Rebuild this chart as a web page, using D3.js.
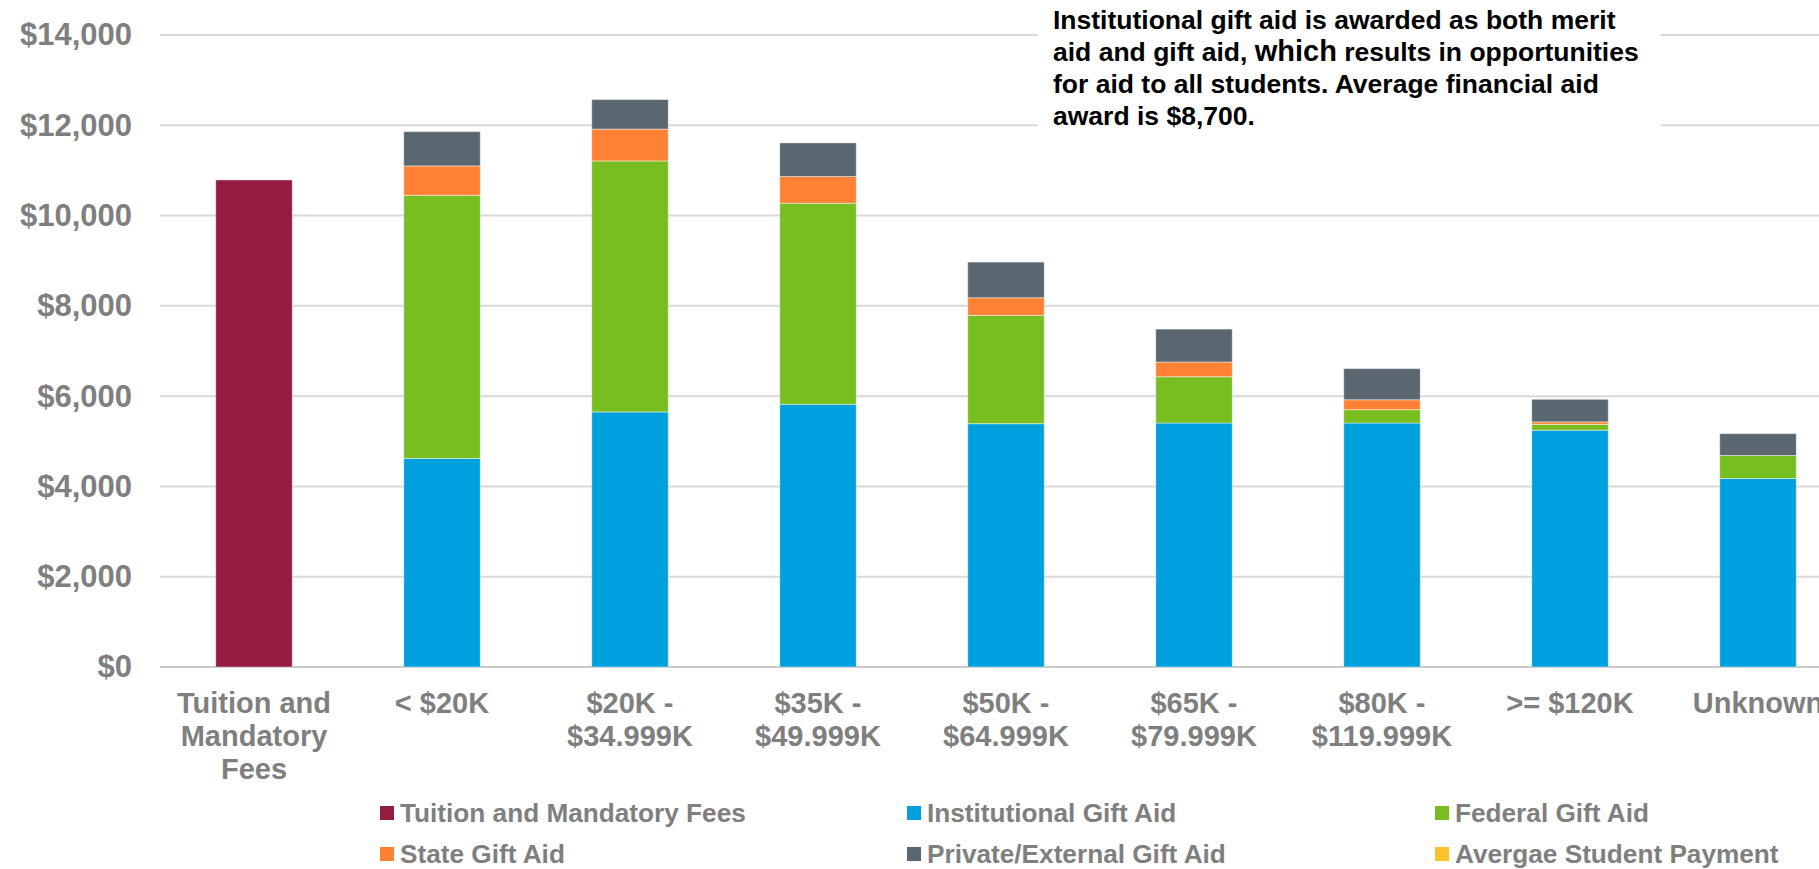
<!DOCTYPE html>
<html>
<head>
<meta charset="utf-8">
<script src="https://cdn.jsdelivr.net/npm/d3@7"></script>
<style>
  html, body { margin: 0; padding: 0; background: #fff; overflow: hidden; }
  svg { display: block; font-family: "Liberation Sans", Arial, sans-serif; font-weight: bold; }
</style>
</head>
<body>
<svg id="chart" width="1819" height="869"></svg>
<script>
// Income brackets along the x axis (the first column shows the sticker price)
const categories = [
  "Tuition and Mandatory Fees", "< $20K", "$20K - $34.999K", "$35K - $49.999K",
  "$50K - $64.999K", "$65K - $79.999K", "$80K - $119.999K", ">= $120K", "Unknown"
];
// Wrapped x-axis labels, one array of lines per category
const categoryLines = [
  ["Tuition and", "Mandatory", "Fees"], ["< $20K"], ["$20K -", "$34.999K"], ["$35K -", "$49.999K"],
  ["$50K -", "$64.999K"], ["$65K -", "$79.999K"], ["$80K -", "$119.999K"], [">= $120K"], ["Unknown"]
];

// Series values in dollars, per category
const tuitionFees      = [10790, 0, 0, 0, 0, 0, 0, 0, 0];
const institutionalAid = [0, 4620, 5650, 5820, 5390, 5405, 5405, 5245, 4175];
const federalAid       = [0, 5830, 5560, 4455, 2400, 1025, 295, 130, 510];
const stateAid         = [0, 650, 705, 590, 390, 325, 220, 55, 0];
const privateAid       = [0, 760, 655, 745, 790, 730, 690, 500, 485];
const studentPayment   = [0, 0, 0, 0, 0, 0, 0, 0, 0];

const seriesNames = [
  "Tuition and Mandatory Fees", "Institutional Gift Aid", "Federal Gift Aid",
  "State Gift Aid", "Private/External Gift Aid", "Avergae Student Payment"
];
const seriesValues = [tuitionFees, institutionalAid, federalAid, stateAid, privateAid, studentPayment];
const seriesColors = ["#931C3F", "#00A0DF", "#78BE20", "#FF8133", "#5B6770", "#FBC22D"];

const yTicks = [0, 2000, 4000, 6000, 8000, 10000, 12000, 14000];

const noteLines = [
  [{ t: "Institutional gift aid is awarded as both merit" }],
  [{ t: "aid and gift aid, " }, { t: "which", big: true }, { t: " results in opportunities" }],
  [{ t: "for aid to all students. Average financial aid" }],
  [{ t: "award is $8,700." }]
];

// ---- layout ----
const svg = d3.select("#chart");
const W = 1819;
const plotLeft = 160, plotTop = 35, plotBottom = 667;
const step = 188;

const x = d3.scaleBand()
  .domain(categories)
  .range([plotLeft, plotLeft + step * categories.length])
  .paddingInner(0.593)
  .paddingOuter(0.593 / 2);

const y = d3.scaleLinear().domain([0, 14000]).range([plotBottom, plotTop]);

// gridlines
svg.append("g").selectAll("line")
  .data(yTicks)
  .join("line")
  .attr("x1", plotLeft).attr("x2", W)
  .attr("y1", d => y(d)).attr("y2", d => y(d))
  .attr("stroke", d => d === 0 ? "#C8C8C8" : "#D9D9D9")
  .attr("stroke-width", 2);

// y axis labels
const yAxis = d3.axisLeft(y).tickValues(yTicks)
  .tickFormat(d => "$" + d3.format(",")(d)).tickSize(0).tickPadding(0);
const yg = svg.append("g").attr("transform", `translate(132,0)`).call(yAxis);
yg.select(".domain").remove();
yg.selectAll("text")
  .attr("fill", "#7F7F7F")
  .style("font-size", "31px")
  .style("font-weight", "bold")
  .style("font-family", "'Liberation Sans', Arial, sans-serif");

// stacked bars
const rows = categories.map((c, i) => {
  const r = { cat: c };
  seriesNames.forEach((s, k) => { r[s] = seriesValues[k][i]; });
  return r;
});
const stacked = d3.stack().keys(seriesNames)(rows);

svg.append("g").selectAll("g")
  .data(stacked)
  .join("g")
  .attr("fill", (d, i) => seriesColors[i])
  .selectAll("rect")
  .data(d => d.filter(p => p[1] - p[0] > 0))
  .join("rect")
  .attr("x", d => x(d.data.cat))
  .attr("width", x.bandwidth())
  .attr("y", d => y(d[1]))
  .attr("height", d => y(d[0]) - y(d[1]))
  .attr("stroke", "#ffffff")
  .attr("stroke-opacity", 0.45)
  .attr("stroke-width", 1);

// x axis labels
const xl = svg.append("g").selectAll("text")
  .data(categories)
  .join("text")
  .attr("x", d => x(d) + x.bandwidth() / 2)
  .attr("y", 713)
  .attr("text-anchor", "middle")
  .attr("fill", "#7F7F7F")
  .style("font-size", "29px");
xl.selectAll("tspan")
  .data((d, i) => categoryLines[i])
  .join("tspan")
  .attr("x", function () { return this.parentNode.getAttribute("x"); })
  .attr("dy", (d, i) => i === 0 ? 0 : 33)
  .text(d => d);

// legend
const legendCols = [380, 907, 1435];
const legendRows = [813, 854];
const lg = svg.append("g").selectAll("g")
  .data(seriesNames)
  .join("g")
  .attr("transform", (d, i) => `translate(${legendCols[i % 3]},${legendRows[Math.floor(i / 3)]})`);
lg.append("rect")
  .attr("x", 0).attr("y", -7).attr("width", 14).attr("height", 14)
  .attr("fill", (d, i) => seriesColors[i]);
lg.append("text")
  .attr("x", 20).attr("y", 0).attr("dy", "0.35em")
  .attr("fill", "#7F7F7F")
  .style("font-size", "26.2px")
  .text(d => d);

// note box in the upper right
const note = svg.append("g");
note.append("rect")
  .attr("x", 1038).attr("y", 0).attr("width", 623).attr("height", 132)
  .attr("fill", "#ffffff");
const nt = note.append("text")
  .attr("fill", "#000000")
  .style("font-size", "26.5px");
nt.selectAll("tspan.line")
  .data(noteLines)
  .join("tspan")
  .attr("class", "line")
  .attr("x", 1053)
  .attr("y", (d, i) => 29 + i * 32)
  .selectAll("tspan")
  .data(d => d)
  .join("tspan")
  .style("font-size", d => d.big ? "29px" : null)
  .text(d => d.t);
</script>
</body>
</html>
